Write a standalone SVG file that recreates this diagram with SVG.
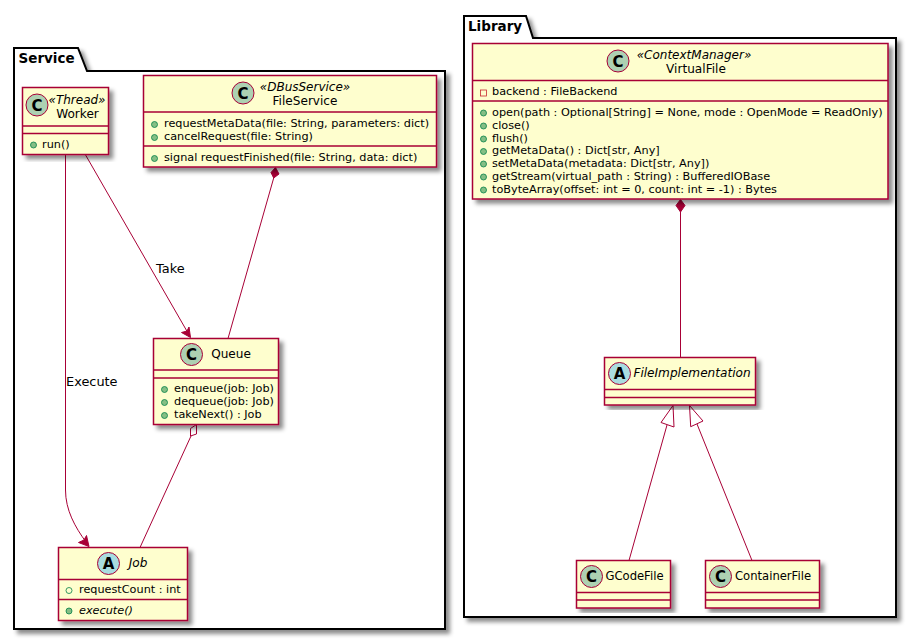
<svg xmlns="http://www.w3.org/2000/svg" width="917" height="640" viewBox="0 0 917 640">
<style>
text{font-family:"DejaVu Sans",sans-serif;fill:#000}
.pk{fill:#fff;stroke:#000;stroke-width:2}
.pkt{font-size:13.5px;font-weight:bold}
.box{fill:#FEFECE;stroke:#A80036;stroke-width:1.5;filter:url(#sh)}
.div{stroke:#A80036;stroke-width:1.5;fill:none}
.n{font-size:12.1px;text-anchor:middle}
.n2{font-size:11.6px;text-anchor:middle}
.st{font-size:12px;font-style:italic;text-anchor:middle}
.m{font-size:11.25px}
.i{font-style:italic}
.cc{fill:#ADD1B2;stroke:#A80036;stroke-width:1}
.ca{fill:#A9DCDF;stroke:#A80036;stroke-width:1}
.gl{font-size:15px;font-weight:bold;text-anchor:middle}
.pub{fill:#84BE84;stroke:#038048;stroke-width:.8}
.pubo{fill:none;stroke:#038048;stroke-width:.8}
.pri{fill:none;stroke:#C82930;stroke-width:.8}
.l{fill:none;stroke:#A80036;stroke-width:1}
.ah{fill:#A80036;stroke:#A80036;stroke-width:1}
.ao{fill:#fff;stroke:#A80036;stroke-width:1}
.lb{font-size:12.9px}
</style>
<defs><filter id="sh" x="-10%" y="-10%" width="120%" height="120%"><feDropShadow dx="4" dy="4" stdDeviation="2" flood-color="#000" flood-opacity=".45"/></filter></defs>
<g id="pkg-service">
<path class="pk" d="M14 71V48H78L87 71H445V629H14Z" filter="url(#sh)"/>
<text class="pkt" x="18.500" y="63">Service</text>
</g>
<g id="pkg-library">
<path class="pk" d="M464 38V16H526L533 38H896V617H464Z" filter="url(#sh)"/>
<text class="pkt" x="468" y="31">Library</text>
</g>
<g id="connectors">
<path class="l" d="M65.500 154V490C65.500 510 75 527 86 542"/>
<path class="ah" d="M89 546.500L86.500 535.500L84 540L78.500 542.500Z"/>
<text class="lb" x="66" y="386">Execute</text>
<path class="l" d="M85 154L188 333"/>
<path class="ah" d="M190.500 337.500L189 327L187 331L181.500 332.500Z"/>
<text class="lb" x="156" y="273">Take</text>
<path class="l" d="M228 338.500L273.700 178"/>
<path class="ah" d="M275.500 167.500L271 172.500L273.700 178L279 174Z"/>
<path class="l" d="M140 547.500L191 436"/>
<path class="ao" d="M196.500 424.500L190.500 428.500L190.500 436L196.500 434Z"/>
<path class="l" d="M680.500 357.500V212"/>
<path class="ah" d="M680.500 199.500L676 205.500L680.500 212L685 205.500Z"/>
<path class="l" d="M629 560.500L667 425"/>
<path class="ao" d="M673 405.500L661 422.500L674 427Z"/>
<path class="l" d="M752 560.500L697 424"/>
<path class="ao" d="M689.500 405.500L690.700 426.700L703 421Z"/>
</g>
<g id="FileService">
<rect class="box" x="143.500" y="75.500" width="293" height="91.500"/>
<path class="div" d="M143.500 112H436.500M143.500 146H436.500"/>
<circle class="cc" cx="243" cy="93" r="11"/><text class="gl" x="243" y="98.500">C</text>
<text class="st" x="305" y="91">«DBusService»</text>
<text class="n" x="305" y="105">FileService</text>
<circle class="pub" cx="154.500" cy="124.500" r="3"/><text class="m" x="164" y="127">requestMetaData(file: String, parameters: dict)</text>
<circle class="pub" cx="154.500" cy="137.500" r="3"/><text class="m" x="164" y="140">cancelRequest(file: String)</text>
<circle class="pub" cx="154.500" cy="158.500" r="3"/><text class="m" x="164" y="161">signal requestFinished(file: String, data: dict)</text>
</g>
<g id="Worker">
<rect class="box" x="22.500" y="87.500" width="86" height="67"/>
<path class="div" d="M22.500 126H108.500M22.500 133.500H108.500"/>
<circle class="cc" cx="37" cy="105" r="11"/><text class="gl" x="37" y="110.500">C</text>
<text class="st" x="77" y="104">«Thread»</text>
<text class="n" x="77.500" y="118">Worker</text>
<circle class="pub" cx="33.500" cy="145" r="3"/><text class="m" x="42" y="148">run()</text>
</g>
<g id="Queue">
<rect class="box" x="153.500" y="338.500" width="125" height="86"/>
<path class="div" d="M153.500 370H278.500M153.500 378H278.500"/>
<circle class="cc" cx="191.500" cy="354.500" r="11"/><text class="gl" x="191.500" y="360">C</text>
<text class="n" x="231" y="358">Queue</text>
<circle class="pub" cx="164.500" cy="389.500" r="3"/><text class="m" x="174" y="392">enqueue(job: Job)</text>
<circle class="pub" cx="164.500" cy="402.500" r="3"/><text class="m" x="174" y="405">dequeue(job: Job)</text>
<circle class="pub" cx="164.500" cy="415.500" r="3"/><text class="m" x="174" y="418">takeNext() : Job</text>
</g>
<g id="Job">
<rect class="box" x="58.500" y="547.500" width="129" height="73"/>
<path class="div" d="M58.500 579.500H187.500M58.500 599.500H187.500"/>
<circle class="ca" cx="108.500" cy="563.500" r="11"/><text class="gl" x="108.500" y="569">A</text>
<text class="n i" x="138" y="567">Job</text>
<circle class="pubo" cx="69" cy="590.500" r="3"/><text class="m" x="79" y="593">requestCount : int</text>
<circle class="pub" cx="69" cy="611" r="3"/><text class="m i" x="79" y="614">execute()</text>
</g>
<g id="VirtualFile">
<rect class="box" x="472.500" y="43.500" width="415.500" height="155.500"/>
<path class="div" d="M472.500 80.500H888M472.500 101H888"/>
<circle class="cc" cx="618" cy="61" r="11"/><text class="gl" x="618" y="66.500">C</text>
<text class="st" x="694" y="59">«ContextManager»</text>
<text class="n" x="696" y="73">VirtualFile</text>
<rect class="pri" x="480.500" y="90" width="6" height="6"/><text class="m" x="492" y="95">backend : FileBackend</text>
<circle class="pub" cx="483.500" cy="113" r="3"/><text class="m" x="492" y="116">open(path : Optional[String] = None, mode : OpenMode = ReadOnly)</text>
<circle class="pub" cx="483.500" cy="126" r="3"/><text class="m" x="492" y="129">close()</text>
<circle class="pub" cx="483.500" cy="139" r="3"/><text class="m" x="492" y="142">flush()</text>
<circle class="pub" cx="483.500" cy="151.500" r="3"/><text class="m" x="492" y="154">getMetaData() : Dict[str, Any]</text>
<circle class="pub" cx="483.500" cy="164" r="3"/><text class="m" x="492" y="167">setMetaData(metadata: Dict[str, Any])</text>
<circle class="pub" cx="483.500" cy="177" r="3"/><text class="m" x="492" y="180">getStream(virtual_path : String) : BufferedIOBase</text>
<circle class="pub" cx="483.500" cy="190" r="3"/><text class="m" x="492" y="193">toByteArray(offset: int = 0, count: int = -1) : Bytes</text>
</g>
<g id="FileImplementation">
<rect class="box" x="604.500" y="357.500" width="151" height="47.500"/>
<path class="div" d="M604.500 389.500H755.500M604.500 397.500H755.500"/>
<circle class="ca" cx="619.500" cy="373.500" r="11"/><text class="gl" x="619.500" y="379">A</text>
<text class="n i" x="692" y="377">FileImplementation</text>
</g>
<g id="GCodeFile">
<rect class="box" x="576.500" y="560.500" width="94" height="47.500"/>
<path class="div" d="M576.500 592.500H670.500M576.500 600H670.500"/>
<circle class="cc" cx="591.500" cy="576.500" r="11"/><text class="gl" x="591.500" y="582">C</text>
<text class="n2" x="634.500" y="580">GCodeFile</text>
</g>
<g id="ContainerFile">
<rect class="box" x="705.500" y="560.500" width="114" height="47.500"/>
<path class="div" d="M705.500 592.500H819.500M705.500 600H819.500"/>
<circle class="cc" cx="720.500" cy="576.500" r="11"/><text class="gl" x="720.500" y="582">C</text>
<text class="n2" x="773" y="580">ContainerFile</text>
</g>
</svg>
